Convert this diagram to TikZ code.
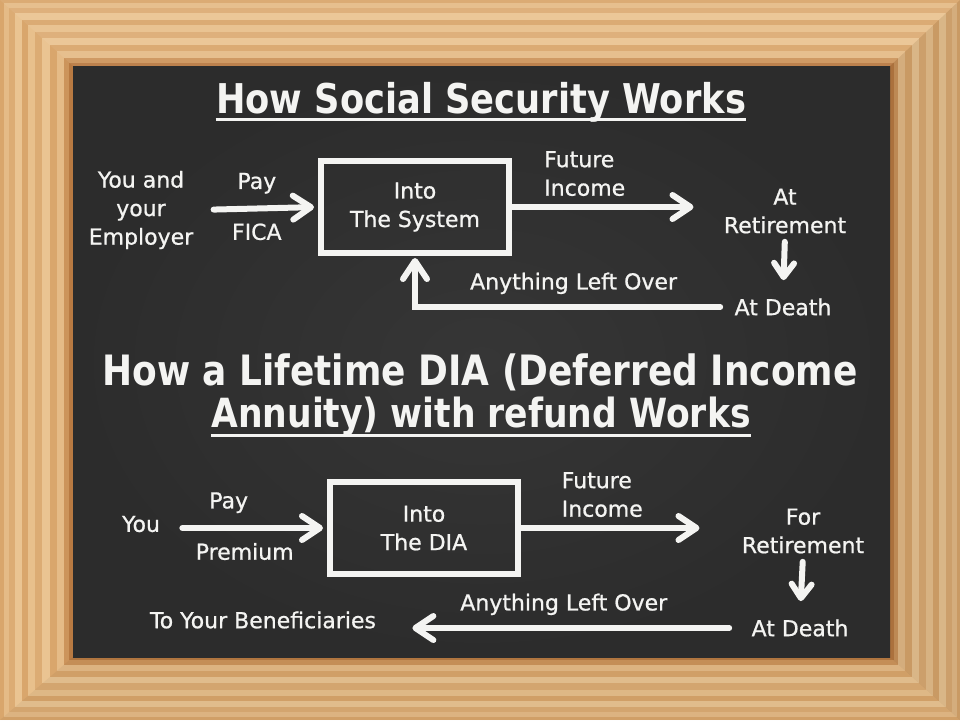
\documentclass[tikz,border=0pt]{standalone}
\usepackage{fontspec}
\setmainfont{DejaVu Sans}
\newfontfamily\chalkfont[FakeBold=0.8]{DejaVu Sans}
\newfontfamily\titlefont[FakeStretch=0.86]{DejaVu Sans}
\usepackage{xcolor}
\usepackage{tikz}
\usetikzlibrary{arrows.meta, positioning}

\definecolor{chalk}{HTML}{F4F4F2}
\definecolor{board}{HTML}{2C2C2C}
\definecolor{boardlight}{HTML}{363636}
\definecolor{wooddark}{HTML}{B87A42}
\definecolor{woodmid}{HTML}{D9A66C}
\definecolor{woodlight}{HTML}{EAC492}

\tikzset{
  chalktext/.style={text=chalk, font=\chalkfont\fontsize{11}{14.25}\selectfont, align=center, inner sep=1pt},
  titletext/.style={text=chalk, font=\titlefont\bfseries\fontsize{20.5}{24}\selectfont, inner sep=0pt},
  chalkbox/.style={chalktext, draw=chalk, line width=3pt, minimum width=94pt, minimum height=46pt},
  chalkarrow/.style={draw=chalk, line width=3pt, line cap=round,
    -{Straight Barb[length=9pt, width=12pt, line cap=round, line join=round]}},
  downarrow/.style={chalkarrow, -{Straight Barb[length=7pt, width=10pt, line cap=round, line join=round]}},
  underline/.style={draw=chalk, line width=1.5pt},
}

\begin{document}
\begin{tikzpicture}[x=0.5pt, y=-0.5pt]
\useasboundingbox (0,0) rectangle (960,720);

% ---- Wooden frame ----
\foreach \t/\c in {0/woodmid, 0.05/woodlight!70!woodmid, 0.12/woodmid!80!woodlight,
                   0.2/woodlight, 0.3/woodmid, 0.38/woodlight!85!woodmid, 0.48/woodmid!80!woodlight,
                   0.58/woodlight, 0.68/woodmid, 0.78/woodlight!70!woodmid,
                   0.88/wooddark!40!woodmid, 0.95/wooddark}
  \fill[\c] ({73*\t},{66*\t}) rectangle ({960-70*\t},{720-63*\t});
\fill[black, opacity=0.07] (960,0) -- (890,66) -- (890,657) -- (960,720) -- cycle;
\fill[black, opacity=0.04] (0,720) -- (73,657) -- (890,657) -- (960,720) -- cycle;
\fill[white, opacity=0.06] (0,0) -- (73,66) -- (890,66) -- (960,0) -- cycle;

% Chalkboard
\shade[inner color=boardlight, outer color=board] (73,66) rectangle (890,657);

% ---- How Social Security Works ----
\node[titletext] (title1) at (481,102) {How Social Security Works};
\draw[underline] ([yshift=-3pt]title1.base west) -- ([yshift=-3pt]title1.base east);

\node[chalkbox] (system) at (415,207) {Into\\The System};
\node[chalktext] (you) at (141,210) {You and\\your\\Employer};
\node[chalktext] (retire) at (785,211) {At\\Retirement};
\node[chalktext] (death) at (783,307) {At Death};

\draw[chalkarrow, shorten <=9pt, shorten >=2pt] (you.east) -- (system.west)
  node[midway, above=5pt, chalktext] {Pay}
  node[midway, below=5pt, chalktext] {FICA};
\draw[chalkarrow, shorten >=14pt] (system.east) -- (retire.west |- system.east)
  node[midway, above=3pt, xshift=-16pt, chalktext, align=left] {Future\\Income};
\draw[downarrow, shorten <=3pt, shorten >=8pt] (retire.south) -- (death.north);
\draw[chalkarrow, shorten <=6pt, shorten >=1pt] (death.west) -| (system.south)
  node[pos=0.25, above=4pt, chalktext] {Anything Left Over};

% ---- How a Lifetime DIA with refund Works ----
\node[titletext, font=\titlefont\bfseries\fontsize{20.9}{24}\selectfont] (title2) at (480,372) {How a Lifetime DIA (Deferred Income};
\node[titletext, font=\titlefont\bfseries\fontsize{20.1}{24}\selectfont] (title3) at (481,417) {Annuity) with refund Works};
\draw[underline] ([yshift=-4pt]title3.base west) -- ([yshift=-4pt]title3.base east);

\node[chalkbox] (dia) at (424,528) {Into\\The DIA};
\node[chalktext] (you2) at (141,524) {You};
\node[chalktext] (retire2) at (803,531) {For\\Retirement};
\node[chalktext] (death2) at (800,628) {At Death};
\node[chalktext] (heirs) at (263,620) {To Your Beneficiaries};

\draw[chalkarrow, shorten <=10pt, shorten >=2pt] (you2.east |- dia.west) -- (dia.west)
  node[midway, above=5pt, xshift=-8pt, chalktext] {Pay}
  node[midway, below=5pt, chalktext] {Premium};
\draw[chalkarrow, shorten >=20pt] (dia.east) -- (retire2.west |- dia.east)
  node[midway, above=3pt, xshift=-14pt, chalktext, align=left] {Future\\Income};
\draw[downarrow, shorten <=3pt, shorten >=8pt] (retire2.south) -- (death2.north);
\draw[chalkarrow, shorten <=10pt, shorten >=17pt] (death2.west) -- (heirs.east |- death2.west)
  node[midway, above=4pt, chalktext] {Anything Left Over};

\end{tikzpicture}
\end{document}
